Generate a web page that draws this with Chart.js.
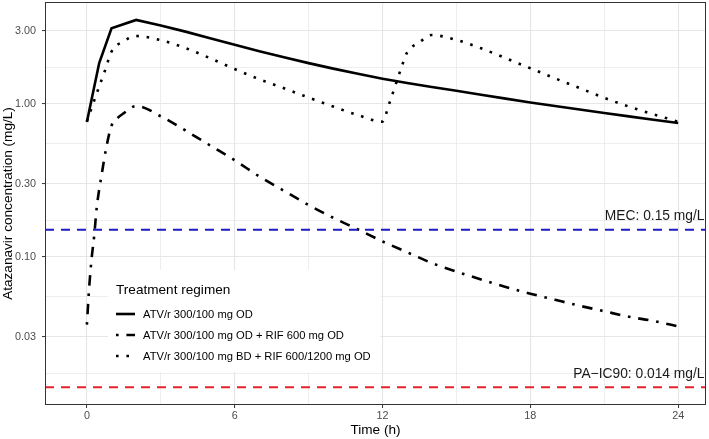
<!DOCTYPE html>
<html><head><meta charset="utf-8">
<script src="https://cdn.jsdelivr.net/npm/chart.js@4.4.1/dist/chart.umd.min.js"></script>
<style>html,body{margin:0;padding:0;background:#fff;}#wrap{width:709px;height:439px;}</style>
</head><body><div id="wrap"><canvas id="c" width="709" height="439"></canvas></div>
<script>
// ---- data ----
const seriesNames = ['ATV/r 300/100 mg OD', 'ATV/r 300/100 mg OD + RIF 600 mg OD', 'ATV/r 300/100 mg BD + RIF 600/1200 mg OD'];
const legendTitle = 'Treatment regimen';

const timeSolid = [0, 0.5, 1, 2, 3, 4, 5, 6, 7, 8, 9, 10, 11, 12, 13, 14, 15, 16, 17, 18, 19, 20, 21, 22, 23, 24];
const concSolid = [0.76, 1.85, 3.12, 3.54, 3.26, 2.97, 2.687, 2.434, 2.212, 2.017, 1.848, 1.701, 1.573, 1.462, 1.370, 1.291, 1.218, 1.148, 1.082, 1.022, 0.968, 0.918, 0.872, 0.829, 0.788, 0.749];

const timeDashDot = [0, 0.1, 0.2, 0.3, 0.4, 0.6, 0.8, 1, 1.25, 1.5, 2, 3, 4, 5, 6, 7, 8, 9, 10, 11, 12, 13, 14, 15, 16, 17, 18, 19, 20, 21, 22, 23, 24];
const concDashDot = [0.036, 0.065, 0.10, 0.139, 0.21, 0.345, 0.53, 0.72, 0.81, 0.87, 0.97, 0.83, 0.67, 0.535, 0.428, 0.335, 0.27, 0.218, 0.18, 0.151, 0.126, 0.107, 0.091, 0.080, 0.071, 0.0634, 0.0573, 0.0523, 0.0478, 0.044, 0.0405, 0.038, 0.035];

const timeDotted = [0, 0.25, 0.5, 0.75, 1, 1.5, 2, 3, 4, 5, 6, 7, 8, 9, 10, 11, 12, 12.25, 12.5, 12.75, 13, 13.5, 14, 15, 16, 17, 18, 19, 20, 21, 22, 23, 24];
const concDotted = [0.77, 1.0, 1.3, 1.68, 2.2, 2.57, 2.78, 2.61, 2.32, 1.99, 1.69, 1.45, 1.265, 1.10, 0.96, 0.845, 0.765, 0.98, 1.29, 1.70, 2.17, 2.53, 2.82, 2.62, 2.31, 1.99, 1.71, 1.47, 1.27, 1.095, 0.96, 0.855, 0.765];

const refLevels = [0.15, 0.014];
const refLabels = ['MEC: 0.15 mg/L', 'PA\u2212IC90: 0.014 mg/L'];

const xMajorTicks = [0, 6, 12, 18, 24];
const xMinorTicks = [3, 9, 15, 21];
const yMajorTicks = [0.03, 0.1, 0.3, 1, 3];
const yTickLabels = ['0.03', '0.10', '0.30', '1.00', '3.00'];
const yMinorTicks = [0.01732, 0.05477, 0.1732, 0.5477, 1.732];

const xMin = -1.7, xMax = 25.13, yMin = 0.01072, yMax = 4.64;

// ---- styles ----
const FONT = '"Liberation Sans", Arial, Helvetica, sans-serif';
const LW = 2.6;
const dashSolid = [];
const dashDotDash = [2.6, 7.8, 10.4, 7.8];
const dashDotted = [2.6, 7.8];
const styles = [dashSolid, dashDotDash, dashDotted];
const refColors = ['#1c1cc4', '#e3242b'];

function pts(t, c) { return t.map((v, i) => ({x: v, y: c[i]})); }
function isMajor(list, v) { return list.some(m => Math.abs(m - v) < 1e-9 || Math.abs(m - v) / Math.abs(m || 1) < 1e-6); }

const datasets = [
  {label: seriesNames[0], data: pts(timeSolid, concSolid), borderColor: '#000', borderWidth: LW, borderDash: dashSolid, tension: 0, order: 3},
  {label: seriesNames[1], data: pts(timeDashDot, concDashDot), borderColor: '#000', borderWidth: LW, borderDash: dashDotDash, cubicInterpolationMode: 'monotone', order: 2},
  {label: seriesNames[2], data: pts(timeDotted, concDotted), borderColor: '#000', borderWidth: LW, borderDash: dashDotted, cubicInterpolationMode: 'monotone', order: 1},
  {label: 'MEC', data: [{x: xMin, y: refLevels[0]}, {x: xMax, y: refLevels[0]}], borderColor: refColors[0], borderWidth: 2, borderDash: [9, 7], order: 0},
  {label: 'PA-IC90', data: [{x: xMin, y: refLevels[1]}, {x: xMax, y: refLevels[1]}], borderColor: refColors[1], borderWidth: 2, borderDash: [9, 7], order: 0}
];
datasets.forEach(d => { d.pointRadius = 0; d.fill = false; d.borderCapStyle = 'butt'; });

const overlay = {
  id: 'overlay',
  afterDraw(chart) {
    const ctx = chart.ctx, a = chart.chartArea;
    const ys = chart.scales.y;
    ctx.save();
    // reference labels
    ctx.fillStyle = '#1a1a1a';
    ctx.font = '13.8px ' + FONT;
    ctx.textAlign = 'right';
    ctx.textBaseline = 'alphabetic';
    refLevels.forEach((lv, i) => {
      ctx.fillText(refLabels[i], a.right - 1.5, ys.getPixelForValue(lv) - 9.5);
    });
    // legend
    const lx = 108, ly = 270, lw = 272, lh = 102;
    ctx.fillStyle = '#fff';
    ctx.fillRect(lx, ly, lw, lh);
    ctx.fillStyle = '#000';
    ctx.textAlign = 'left';
    ctx.textBaseline = 'middle';
    ctx.font = '13.6px ' + FONT;
    ctx.fillText(legendTitle, 116, 290);
    ctx.font = '11.2px ' + FONT;
    const rows = [314, 335, 356];
    seriesNames.forEach((n, i) => {
      ctx.beginPath();
      ctx.setLineDash(styles[i]);
      ctx.lineDashOffset = 0;
      ctx.lineWidth = LW;
      ctx.lineCap = 'butt';
      ctx.strokeStyle = '#000';
      ctx.moveTo(116, rows[i]);
      ctx.lineTo(135, rows[i]);
      ctx.stroke();
      ctx.setLineDash([]);
      ctx.fillText(n, 143, rows[i] + 0.5);
    });
    // panel border
    ctx.strokeStyle = '#333';
    ctx.lineWidth = 1;
    ctx.strokeRect(a.left + 0.5, a.top + 0.5, a.right - a.left - 1, a.bottom - a.top - 1);
    ctx.restore();
  }
};

new Chart(document.getElementById('c'), {
  type: 'line',
  data: {datasets},
  options: {
    responsive: false,
    devicePixelRatio: 1,
    animation: false,
    layout: {padding: {top: 2, right: 3, left: 0, bottom: 0}},
    plugins: {legend: {display: false}, tooltip: {enabled: false}},
    scales: {
      x: {
        type: 'linear', min: xMin, max: xMax,
        afterBuildTicks(s) { s.ticks = xMinorTicks.concat(xMajorTicks).sort((p, q) => p - q).map(v => ({value: v})); },
        afterFit(s) { s.height = 34; s.paddingLeft = 0; s.paddingRight = 0; s.paddingTop = 0; s.paddingBottom = 0; },
        ticks: {
          autoSkip: false, maxRotation: 0, padding: 2,
          color: '#4d4d4d', font: {size: 10.8, family: FONT},
          callback: (v) => isMajor(xMajorTicks, v) ? String(v) : ''
        },
        grid: {
          color: '#e6e6e6',
          lineWidth: (c) => (c.tick && isMajor(xMajorTicks, c.tick.value)) ? 1.1 : 0.7,
          tickColor: (c) => (c.tick && isMajor(xMajorTicks, c.tick.value)) ? '#333' : 'rgba(0,0,0,0)',
          tickWidth: 1, tickLength: 3
        },
        border: {display: false},
        title: {display: true, text: 'Time (h)', color: '#000', font: {size: 13.6, family: FONT}, padding: {top: 0, bottom: 1}}
      },
      y: {
        type: 'logarithmic', min: yMin, max: yMax,
        afterBuildTicks(s) { s.ticks = yMinorTicks.concat(yMajorTicks).sort((p, q) => p - q).map(v => ({value: v})); },
        afterFit(s) { s.width = 45; s.paddingLeft = 0; s.paddingRight = 0; s.paddingTop = 0; s.paddingBottom = 0; },
        ticks: {
          autoSkip: false, padding: 6,
          color: '#4d4d4d', font: {size: 10.8, family: FONT},
          callback: (v) => { const i = yMajorTicks.findIndex(m => Math.abs(m - v) / m < 1e-6); return i >= 0 ? yTickLabels[i] : ''; }
        },
        grid: {
          color: '#e6e6e6',
          lineWidth: (c) => (c.tick && isMajor(yMajorTicks, c.tick.value)) ? 1.1 : 0.7,
          tickColor: (c) => (c.tick && isMajor(yMajorTicks, c.tick.value)) ? '#333' : 'rgba(0,0,0,0)',
          tickWidth: 1, tickLength: 3
        },
        border: {display: false},
        title: {display: true, text: 'Atazanavir concentration (mg/L)', color: '#000', font: {size: 13.6, family: FONT}, padding: {top: 0, bottom: 0}}
      }
    }
  },
  plugins: [overlay]
});
</script>
</body></html>
